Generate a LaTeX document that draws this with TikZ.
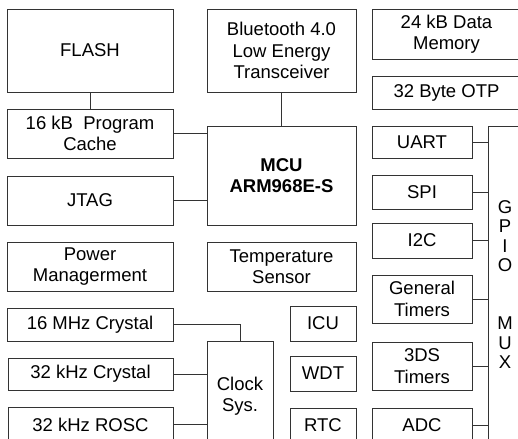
\documentclass[tikz,border=0pt]{standalone}
\usepackage{fontspec}
\setmainfont{Liberation Sans}
\begin{document}
\begin{tikzpicture}[x=1pt,y=-1pt,
  box/.style={draw=black!80, line width=0.8pt, inner sep=0pt, align=center,
    font=\fontsize{18.5}{21.5}\selectfont},
  wire/.style={draw=black!80, line width=0.8pt},
  lbl/.style={inner sep=0pt, align=center, font=\fontsize{18.5}{19.4}\selectfont}]
\useasboundingbox (0,0) rectangle (518,438);
\clip (0,0) rectangle (518,438);
% left column
\node[box, minimum width=166pt, minimum height=83pt] (flash) at (90,50.5) {FLASH};
\node[box, minimum width=166pt, minimum height=49pt] (cache) at (90,133.5) {16 kB\ \ Program\\Cache};
\node[box, minimum width=166pt, minimum height=49pt] (jtag) at (90,200.5) {JTAG};
\node[box, minimum width=166pt, minimum height=49pt] (power) at (90,266.5) {Power\\Managerment};
\node[box, minimum width=166pt, minimum height=33pt] (x16) at (90,324.5) {16 MHz Crystal};
\node[box, minimum width=165pt, minimum height=32pt] (x32) at (90.5,374) {32 kHz Crystal};
\node[box, minimum width=165pt, minimum height=35pt] (rosc) at (90.5,424.5) {32 kHz ROSC};
% middle column
\node[box, minimum width=149pt, minimum height=83pt] (bt) at (281.5,50.5) {Bluetooth 4.0\\Low Energy\\Transceiver};
\node[box, minimum width=149pt, minimum height=99pt] (mcu) at (281.5,175.5) {\bfseries MCU\\\bfseries ARM968E-S};
\node[box, minimum width=149pt, minimum height=49pt] (temp) at (281.5,266.5) {Temperature\\Sensor};
\node[box, minimum width=66pt, minimum height=110pt] (clock) at (240,396) {Clock\\Sys.};
\node[box, minimum width=66pt, minimum height=35pt] (icu) at (323,323.5) {ICU};
\node[box, minimum width=66pt, minimum height=35pt] (wdt) at (323,373.5) {WDT};
\node[box, minimum width=66pt, minimum height=35pt] (rtc) at (323,425.5) {RTC};
% right column
\node[box, minimum width=149pt, minimum height=50pt] (dmem) at (446.5,34) {24 kB Data\\Memory};
\node[box, minimum width=149pt, minimum height=33pt] (otp) at (446.5,92.5) {32 Byte OTP};
\node[box, minimum width=100pt, minimum height=32pt] (uart) at (422,142) {UART};
\node[box, minimum width=100pt, minimum height=34pt] (spi) at (422,192) {SPI};
\node[box, minimum width=100pt, minimum height=35pt] (i2c) at (422,240.5) {I2C};
\node[box, minimum width=100pt, minimum height=48pt] (gen) at (422,299) {General\\Timers};
\node[box, minimum width=100pt, minimum height=48pt] (tds) at (422,366) {3DS\\Timers};
\node[box, minimum width=100pt, minimum height=34pt] (adc) at (422,425) {ADC};
\node[box, minimum width=60pt, minimum height=340pt] (gpio) at (518,296) {};
\node[lbl] (gpiolbl) at (505,284.5) {G\\P\\I\\O\\\mbox{}\\\mbox{}\\M\\U\\X};
% connectors
\draw[wire] (flash.south) -- (cache.north);
\draw[wire] (bt.south) -- (mcu.north);
\draw[wire] (cache.east) -- (mcu.west |- cache.east);
\draw[wire] (jtag.east) -- (mcu.west |- jtag.east);
\draw[wire] (x16.east) -| (clock.north);
\draw[wire] (x32.east) -- (clock.west |- x32.east);
\draw[wire] (rosc.east) -- (clock.west |- rosc.east);
\foreach \n in {uart,spi,i2c,gen,tds,adc}
  \draw[wire] (\n.east) -- (gpio.west |- \n.east);
\end{tikzpicture}
\end{document}
